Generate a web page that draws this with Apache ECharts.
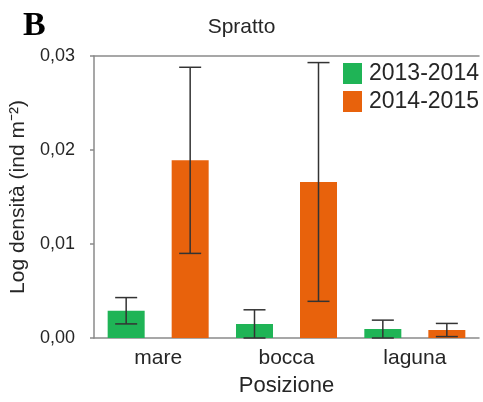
<!DOCTYPE html>
<html>
<head>
<meta charset="utf-8">
<script src="https://cdn.jsdelivr.net/npm/echarts@6/dist/echarts.min.js"></script>
<style>
	html, body { margin: 0; padding: 0; background: #fff; }
	#chart { width: 483px; height: 402px; }
</style>
</head>
<body>
<div id="chart"></div>
<script>
// dati
var categories = ["mare", "bocca", "laguna"];
var seriesNames = ["2013-2014", "2014-2015"];
var mean1314 = [0.0029, 0.0015, 0.00095];
var err1314 = [0.0014, 0.0015, 0.00095];
var mean1415 = [0.0189, 0.0166, 0.00085];
var err1415 = [0.0099, 0.0127, 0.0007];

var green = "#1fb456";
var orange = "#e8620c";
var axisGray = "#8a8a8a";
var textCol = "#262626";
var barW = 37;
var barGapPx = 27;
var offset = (barW + barGapPx) / 2;

function errData(mean, err) {
	return mean.map(function(m, i) {
		return [i, Math.max(0, m - err[i]), m + err[i]];
	});
}

function errRender(dx) {
	return function(params, api) {
		var x = api.coord([api.value(0), 0])[0] + dx;
		var top = api.coord([api.value(0), api.value(2)])[1];
		var bot = api.coord([api.value(0), api.value(1)])[1];
		var cap = 11;
		var style = { stroke: "#333", lineWidth: 1.5 };
		return {
			type: "group",
			children: [
				{ type: "line", shape: { x1: x, y1: top, x2: x, y2: bot }, style: style },
				{ type: "line", shape: { x1: x - cap, y1: top, x2: x + cap, y2: top }, style: style },
				{ type: "line", shape: { x1: x - cap, y1: bot, x2: x + cap, y2: bot }, style: style },
			],
		};
	};
}

var chart = echarts.init(document.getElementById("chart"));
chart.setOption({
	animation: false,
	textStyle: { fontFamily: "Liberation Sans, Arial, sans-serif" },
	title: {
		text: "Spratto",
		left: "center",
		top: 12,
		textStyle: { fontSize: 21, fontWeight: "normal", color: textCol },
	},
	graphic: [
		{
			type: "text",
			left: 23,
			top: 9,
			style: {
				text: "B",
				font: "bold 34px 'Liberation Serif', 'Times New Roman', serif",
				fill: "#000",
			},
		},
	],
	legend: {
		data: seriesNames,
		orient: "vertical",
		left: 343,
		top: 62,
		padding: 0,
		icon: "rect",
		itemWidth: 19,
		itemHeight: 21,
		itemGap: 5,
		textStyle: { fontSize: 23, color: textCol, padding: [0, 0, 0, 2] },
	},
	grid: {
		left: 92,
		right: 4,
		top: 56,
		bottom: 63,
	},
	xAxis: [
		{
			type: "category",
			data: categories,
			name: "Posizione",
			nameLocation: "middle",
			nameGap: 37,
			nameTextStyle: { fontSize: 22, color: textCol },
			axisLine: { lineStyle: { color: axisGray, width: 1.5 } },
			axisTick: { alignWithLabel: true, length: 4, lineStyle: { color: axisGray, width: 1.5 } },
			axisLabel: { fontSize: 21, color: textCol, margin: 10 },
		},
		{
			type: "category",
			data: categories,
			position: "top",
			axisLine: { lineStyle: { color: axisGray, width: 1.5 } },
			axisTick: { show: false },
			axisLabel: { show: false },
		},
	],
	yAxis: {
		type: "value",
		min: 0,
		max: 0.03,
		interval: 0.01,
		name: "Log densità (ind m⁻²)",
		nameLocation: "middle",
		nameGap: 65,
		nameTextStyle: { fontSize: 21, color: textCol },
		axisLine: { show: true, lineStyle: { color: axisGray, width: 1.5 } },
		axisTick: { show: true, length: 4, lineStyle: { color: axisGray, width: 1.5 } },
		splitLine: { show: false },
		axisLabel: {
			fontSize: 18,
			color: textCol,
			margin: 19,
			formatter: function(v) {
				return v.toFixed(2).replace(".", ",");
			},
		},
	},
	series: [
		{
			name: seriesNames[0],
			type: "bar",
			data: mean1314,
			barWidth: barW,
			barGap: (barGapPx / barW * 100).toFixed(0) + "%",
			itemStyle: { color: green },
		},
		{
			name: seriesNames[1],
			type: "bar",
			data: mean1415,
			barWidth: barW,
			itemStyle: { color: orange },
		},
		{
			type: "custom",
			renderItem: errRender(-offset),
			data: errData(mean1314, err1314),
			encode: { x: 0, y: [1, 2] },
			z: 10,
		},
		{
			type: "custom",
			renderItem: errRender(offset),
			data: errData(mean1415, err1415),
			encode: { x: 0, y: [1, 2] },
			z: 10,
		},
	],
});
</script>
</body>
</html>
